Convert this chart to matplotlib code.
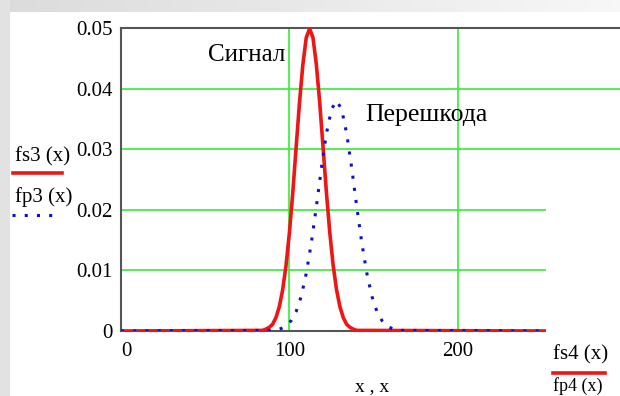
import matplotlib
matplotlib.use('Agg')
import numpy as np
import matplotlib.pyplot as plt
from matplotlib.patches import Rectangle
from matplotlib.lines import Line2D

# ---- data ----
signal_x = [0, 84, 86, 88, 90, 92, 94, 96, 98, 100, 102, 104, 106, 108, 110, 112,
            114, 116, 118, 120, 122, 124, 126, 128, 130, 132, 134, 136, 138, 140, 255]
signal_y = [0, 0.0001, 0.0003, 0.0006, 0.0011, 0.0022, 0.0040, 0.0068, 0.0108, 0.0162,
            0.0228, 0.0303, 0.0377, 0.0440, 0.0484, 0.0499, 0.0484, 0.0440, 0.0377,
            0.0303, 0.0228, 0.0162, 0.0108, 0.0068, 0.0040, 0.0022, 0.0011, 0.0006,
            0.0003, 0.0001, 0]
noise_x = [0, 92, 95, 98, 101, 104, 107, 110, 113, 116, 119, 122, 125, 128, 131, 134,
           137, 140, 143, 146, 149, 152, 155, 158, 161, 164, 255]
noise_y = [0, 0.0001, 0.0004, 0.0008, 0.0017, 0.0032, 0.0057, 0.0095, 0.0145, 0.0205,
           0.0269, 0.0326, 0.0366, 0.0380, 0.0366, 0.0326, 0.0269, 0.0205, 0.0145,
           0.0095, 0.0057, 0.0032, 0.0017, 0.0008, 0.0004, 0.0001, 0]
x_ticks = [0, 100, 200]
x_tick_labels = ['0', '100', '200']
y_ticks = [0, 0.01, 0.02, 0.03, 0.04, 0.05]
y_tick_labels = ['0', '0.01', '0.02', '0.03', '0.04', '0.05']
label_signal = 'Сигнал'
label_noise = 'Перешкода'
x_axis_label = 'x , x'
legend_left = ['fs3 (x)', 'fp3 (x)']
legend_right = ['fs4 (x)', 'fp4 (x)']

W, H = 620, 396
fig = plt.figure(figsize=(6.2, 3.96), dpi=100)
SERIF = 'Liberation Serif'
RED = '#ee1515'
BLUE = '#1010cc'
GREEN = '#33ee33'
AXC = '#555555'


def fx(px):
    return px / W


def fy(py):
    return 1 - py / H


# background (screenshot gray edges)
bg = np.ones((H, W, 3))
grad = np.linspace(0.86, 0.97, W)
for r in range(12):
    bg[r, :, :] = grad[:, None]
bg[:, :10, :] = 0.89
ax_bg = fig.add_axes([0, 0, 1, 1], zorder=-10)
ax_bg.imshow(bg, aspect='auto', extent=[0, W, H, 0])
ax_bg.set_axis_off()

ax = fig.add_axes([fx(121), fy(331), 1.01 - fx(121), fy(28) - fy(331)])
ax.set_facecolor('white')
ax.set_xlim(0, 300)
ax.set_ylim(0, 0.05)

ax.plot(signal_x, signal_y, color=RED, lw=2.6, zorder=3)
ax.plot(noise_x, noise_y, color=BLUE, lw=2.2, linestyle=(0, (1, 3)),
        dash_capstyle='butt', zorder=4)

for v in [100, 200]:
    ax.axvline(v, color=GREEN, lw=1.2, zorder=1)
for v in [0.01, 0.02, 0.03, 0.04]:
    ax.axhline(v, color=GREEN, lw=1.2, zorder=1)

for s in ['left', 'top', 'bottom']:
    ax.spines[s].set_color(AXC)
    ax.spines[s].set_linewidth(1.5)
ax.spines['right'].set_visible(False)

ax.set_xticks(x_ticks)
ax.set_xticklabels(x_tick_labels, family=SERIF, fontsize=15)
ax.set_yticks(y_ticks)
ax.set_yticklabels(y_tick_labels, family=SERIF, fontsize=15)
ax.tick_params(length=0, pad=6)
ax.tick_params(axis='x', pad=8)
ax.get_xticklabels()[0].set_horizontalalignment('left')

ax.text(97.5, 0.0455, label_signal, family=SERIF, fontsize=18,
        ha='right', va='center', zorder=5)
ax.text(145, 0.0356, label_noise, family=SERIF, fontsize=18.5,
        ha='left', va='center', zorder=5)

# cover region on the lower right (another worksheet region)
fig.add_artist(Rectangle((fx(546), 0), 1 - fx(546), fy(176), transform=fig.transFigure,
                         facecolor='white', edgecolor='none', zorder=5))

fig.text(fx(372), fy(395), x_axis_label, family=SERIF, fontsize=14,
         ha='center', va='bottom', zorder=6)

# left legend
fig.text(fx(15), fy(157), legend_left[0], family=SERIF, fontsize=15, ha='left', va='center', zorder=6)
fig.add_artist(Line2D([fx(13), fx(62)], [fy(173), fy(173)], transform=fig.transFigure,
                      color=RED, lw=2.6, zorder=6))
fig.text(fx(15), fy(197), legend_left[1], family=SERIF, fontsize=15, ha='left', va='center', zorder=6)
fig.add_artist(Line2D([fx(12), fx(55)], [fy(215), fy(215)], transform=fig.transFigure,
                      color=BLUE, lw=2.2, linestyle=(0, (1, 3)), dash_capstyle='butt', zorder=6))

# right legend
fig.text(fx(553), fy(355), legend_right[0], family=SERIF, fontsize=15, ha='left', va='center', zorder=6)
fig.add_artist(Line2D([fx(553), fx(605)], [fy(373), fy(373)], transform=fig.transFigure,
                      color=RED, lw=2.6, zorder=6))
fig.text(fx(553), fy(395), legend_right[1], family=SERIF, fontsize=13, ha='left', va='bottom', zorder=6)

fig.savefig('out.png', dpi=100)
